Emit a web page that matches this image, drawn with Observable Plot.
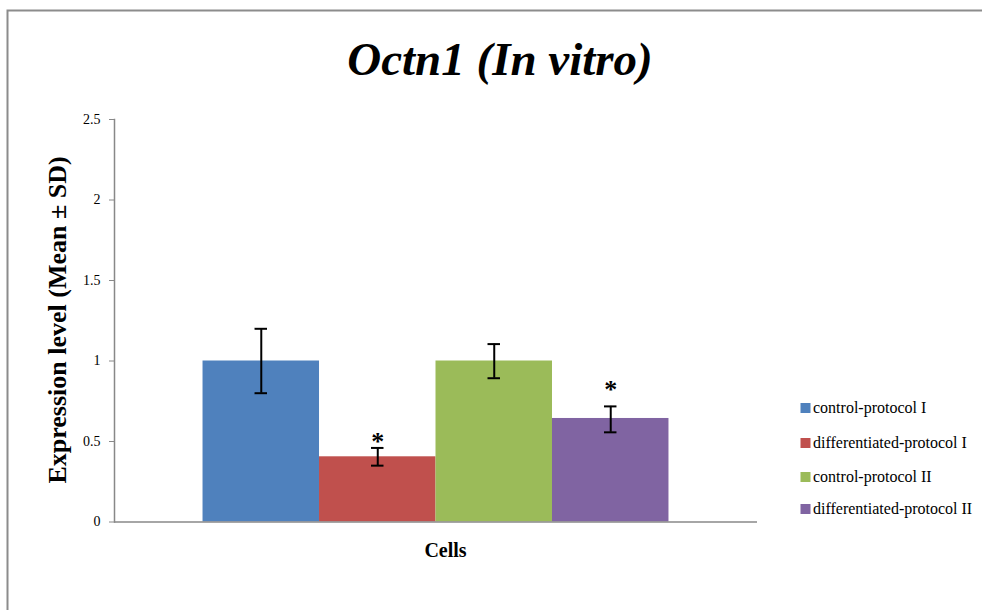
<!DOCTYPE html>
<html>
<head>
<meta charset="utf-8">
<script src="https://cdn.jsdelivr.net/npm/d3@7"></script>
<script src="https://cdn.jsdelivr.net/npm/@observablehq/plot@0.6"></script>
<style>
  html, body { margin: 0; padding: 0; background: white; }
  #chart { position: relative; width: 982px; height: 610px; overflow: hidden; }
</style>
</head>
<body>
<div id="chart"></div>
<script>
// ---- data ----
const titleText = "Octn1 (In vitro)";
const yLabel = "Expression level (Mean ± SD)";
const xLabel = "Cells";
const seriesNames = ["control-protocol I", "differentiated-protocol I", "control-protocol II", "differentiated-protocol II"];
const means = [1.0, 0.405, 1.0, 0.643];
const errLow = [0.80, 0.35, 0.893, 0.557];
const errHigh = [1.20, 0.46, 1.105, 0.718];
const significant = [false, true, false, true];
const asteriskAt = [null, 0.537, null, 0.862];
const colors = ["#4F81BD", "#C0504D", "#9BBB59", "#8064A2"];
const yTicks = [0, 0.5, 1, 1.5, 2, 2.5];

const rows = seriesNames.map((s, i) => ({
  series: s, mean: means[i], lo: errLow[i], hi: errHigh[i], sig: significant[i], star: asteriskAt[i]
}));

const serif = "'Liberation Serif', 'Times New Roman', serif";

const chart = Plot.plot({
  width: 982,
  height: 610,
  marginTop: 119,
  marginBottom: 88.5,
  marginLeft: 114,
  marginRight: 225,
  style: { fontFamily: serif, background: "white", overflow: "visible", color: "black" },
  x: { domain: seriesNames, paddingInner: 0, paddingOuter: 0.76, round: false, axis: null },
  y: { domain: [0, 2.5], axis: null },
  color: { domain: seriesNames, range: colors },
  marks: [
    Plot.barY(rows, { x: "series", y: "mean", fill: "series" }),
    Plot.ruleX(rows, { x: "series", y1: "lo", y2: "hi", stroke: "black", strokeWidth: 2 }),
    Plot.tickY(rows, { x: "series", y: "lo", stroke: "black", strokeWidth: 2, insetLeft: 52, insetRight: 52 }),
    Plot.tickY(rows, { x: "series", y: "hi", stroke: "black", strokeWidth: 2, insetLeft: 52, insetRight: 52 }),
    Plot.text(rows.filter(d => d.sig), { x: "series", y: "star", text: () => "*", fontSize: 26, fontWeight: "bold", dy: 6, fill: "black" }),
    Plot.ruleY([0], { stroke: "#888", strokeWidth: 1.5 }),
    Plot.frame({ anchor: "left", stroke: "#888", strokeWidth: 1.5 }),
    Plot.axisY({ ticks: yTicks, tickSize: 5, tickPadding: 9, fontSize: 14, stroke: "#888", fill: "black", tickFormat: d => String(d), label: null })
  ]
});

document.getElementById("chart").appendChild(chart);

const svg = d3.select(chart);

// outer border (top and left only visible)
svg.append("path")
  .attr("d", "M7.5,612 V10.5 H984")
  .attr("fill", "none").attr("stroke", "#8c8c8c").attr("stroke-width", 2);

// title
svg.append("text")
  .attr("x", 500).attr("y", 75)
  .attr("text-anchor", "middle")
  .attr("font-family", serif).attr("font-size", 47)
  .attr("font-weight", "bold").attr("font-style", "italic")
  .attr("fill", "black")
  .text(titleText);

// y label
svg.append("text")
  .attr("transform", "translate(66,320) rotate(-90)")
  .attr("text-anchor", "middle")
  .attr("font-family", serif).attr("font-size", 26).attr("font-weight", "bold")
  .attr("fill", "black")
  .text(yLabel);

// x label
svg.append("text")
  .attr("x", 445.5).attr("y", 557)
  .attr("text-anchor", "middle")
  .attr("font-family", serif).attr("font-size", 20).attr("font-weight", "bold")
  .attr("fill", "black")
  .text(xLabel);

// legend
const legendY = [408, 443, 477, 509];
const lg = svg.append("g").attr("text-anchor", "start");
seriesNames.forEach((s, i) => {
  lg.append("rect").attr("x", 800.5).attr("y", legendY[i] - 5).attr("width", 10).attr("height", 10).attr("fill", colors[i]);
  lg.append("text").attr("x", 813).attr("y", legendY[i] + 5)
    .attr("text-anchor", "start")
    .attr("font-family", serif).attr("font-size", 16).attr("fill", "black")
    .text(s);
});
</script>
</body>
</html>
